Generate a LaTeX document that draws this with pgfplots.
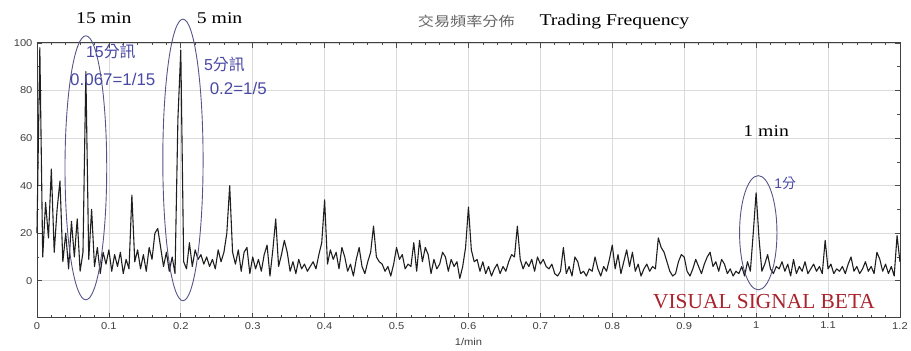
\documentclass[border=0pt]{standalone}
\usepackage{pgfplots}
\pgfplotsset{compat=1.18}
\usepackage{fontspec}
\setmainfont{Liberation Serif}
\newfontfamily\serifwide[FakeStretch=1.2]{Liberation Serif}
\newfontfamily\sans{Liberation Sans}
\newfontfamily\sanswide[FakeStretch=1.12]{Liberation Sans}
\newfontfamily\cjk{Noto Sans CJK TC}
\newfontfamily\cjkwide[FakeStretch=1.2]{Noto Sans CJK TC}
\definecolor{annot}{RGB}{72,72,165}
\definecolor{ring}{RGB}{85,85,135}
\definecolor{mark}{RGB}{170,35,45}

\begin{document}
\begin{tikzpicture}
\begin{axis}[
  scale only axis, width=864bp, height=275bp,
  xmin=0, xmax=1.2, ymin=-15.5, ymax=100,
  xtick={0,0.1,0.2,0.3,0.4,0.5,0.6,0.7,0.8,0.9,1,1.1,1.2},
  ytick={0,20,40,60,80,100},
  minor x tick num=4, minor y tick num=1,
  tick align=inside, major tick length=5bp, minor tick length=2.5bp,
  tick style={draw=black!70, line width=0.6pt},
  grid=major, major grid style={draw=black!14, line width=0.7pt},
  axis line style={draw=black!75, line width=0.9pt},
  /pgf/number format/assume math mode=true,
  ticklabel style={font=\sanswide\fontsize{10}{11}\selectfont, text=black!75},
  xticklabel style={yshift=-1bp},
  yticklabel style={xshift=-1bp},
  xlabel={1/min}, xlabel style={font=\sanswide\fontsize{10}{11}\selectfont, text=black!75, yshift=-2bp},
  clip=false,
]
% power spectrum of trade counts against frequency (1/min)
\addplot[black!88, line width=1.1bp, line join=round] coordinates {
(0,20)(0.004,98)(0.008,10)(0.012,33)(0.016,18)(0.02,47)(0.024,12)(0.028,30)(0.032,42)(0.036,8)
(0.04,20)(0.044,5)(0.048,25)(0.052,10)(0.056,26)(0.06,4)(0.064,12)(0.068,88)(0.072,9)(0.076,30)
(0.08,6)(0.084,14)(0.088,3)(0.092,12)(0.096,7)(0.1,13)(0.104,4)(0.108,11)(0.112,6)(0.116,12)
(0.12,3)(0.124,9)(0.128,5)(0.132,36)(0.136,8)(0.14,13)(0.144,5)(0.148,11)(0.152,4)(0.156,14)
(0.16,9)(0.164,20)(0.168,22)(0.172,14)(0.176,6)(0.18,12)(0.184,4)(0.188,10)(0.192,3)(0.196,68)
(0.2,97)(0.204,8)(0.208,5)(0.212,16)(0.216,6)(0.22,13)(0.224,9)(0.228,11)(0.232,7)(0.236,10)
(0.24,6)(0.244,9)(0.248,5)(0.252,13)(0.256,8)(0.26,12)(0.264,20)(0.268,40)(0.272,12)(0.276,7)
(0.28,13)(0.284,4)(0.288,12)(0.292,14)(0.296,3)(0.3,10)(0.304,5)(0.308,9)(0.312,4)(0.316,11)
(0.32,15)(0.324,2)(0.328,13)(0.332,26)(0.336,6)(0.34,11)(0.344,17)(0.348,12)(0.352,4)(0.356,8)
(0.36,3)(0.364,9)(0.368,5)(0.372,7)(0.376,4)(0.38,6)(0.384,8)(0.388,5)(0.392,11)(0.396,16)
(0.4,34)(0.404,7)(0.408,13)(0.412,9)(0.416,12)(0.42,5)(0.424,14)(0.428,10)(0.432,4)(0.436,7)
(0.44,2)(0.444,9)(0.448,14)(0.452,6)(0.456,3)(0.46,8)(0.464,12)(0.468,23)(0.472,10)(0.476,8)
(0.48,7)(0.484,4)(0.488,6)(0.492,2)(0.496,7)(0.5,14)(0.504,9)(0.508,11)(0.512,5)(0.516,7)
(0.52,6)(0.524,16)(0.528,4)(0.532,17)(0.536,8)(0.54,14)(0.544,11)(0.548,3)(0.552,9)(0.556,5)
(0.56,7)(0.564,12)(0.568,10)(0.572,4)(0.576,9)(0.58,6)(0.584,8)(0.588,1)(0.592,6)(0.596,14)
(0.6,31)(0.604,13)(0.608,8)(0.612,9)(0.616,4)(0.62,8)(0.624,3)(0.628,6)(0.632,2)(0.636,5)
(0.64,7)(0.644,3)(0.648,6)(0.652,4)(0.656,8)(0.66,11)(0.664,10)(0.668,23)(0.672,9)(0.676,5)
(0.68,8)(0.684,6)(0.688,9)(0.692,4)(0.696,10)(0.7,7)(0.704,9)(0.708,6)(0.712,5)(0.716,7)
(0.72,3)(0.724,2)(0.728,4)(0.732,14)(0.736,3)(0.74,6)(0.744,2)(0.748,10)(0.752,8)(0.756,3)
(0.76,4)(0.764,2)(0.768,5)(0.772,4)(0.776,10)(0.78,5)(0.784,2)(0.788,6)(0.792,4)(0.796,9)
(0.8,15)(0.804,5)(0.808,11)(0.812,3)(0.816,8)(0.82,13)(0.824,6)(0.828,12)(0.832,4)(0.836,7)
(0.84,2)(0.844,5)(0.848,7)(0.852,4)(0.856,6)(0.86,5)(0.864,18)(0.868,14)(0.872,12)(0.876,8)
(0.88,4)(0.884,2)(0.888,3)(0.892,8)(0.896,11)(0.9,10)(0.904,4)(0.908,2)(0.912,5)(0.916,9)
(0.92,6)(0.924,3)(0.928,7)(0.932,10)(0.936,12)(0.94,6)(0.944,8)(0.948,4)(0.952,9)(0.956,7)
(0.96,3)(0.964,5)(0.968,2)(0.972,4)(0.976,3)(0.98,6)(0.984,2)(0.988,8)(0.992,4)(0.996,20)
(1,37)(1.004,18)(1.008,4)(1.012,7)(1.016,11)(1.02,5)(1.024,3)(1.028,6)(1.032,5)(1.036,8)
(1.04,4)(1.044,7)(1.048,2)(1.052,9)(1.056,3)(1.06,6)(1.064,4)(1.068,8)(1.072,3)(1.076,5)
(1.08,7)(1.084,4)(1.088,6)(1.092,3)(1.096,17)(1.1,5)(1.104,7)(1.108,3)(1.112,5)(1.116,4)
(1.12,6)(1.124,3)(1.128,7)(1.132,10)(1.136,4)(1.14,6)(1.144,3)(1.148,5)(1.152,8)(1.156,4)
(1.16,6)(1.164,3)(1.168,12)(1.172,9)(1.176,4)(1.18,7)(1.184,3)(1.188,6)(1.192,2)(1.196,19)
(1.2,8)
};

% rings around the 15 min, 5 min and 1 min peaks
\draw[ring, line width=0.9pt] (axis cs:0.068,47.5) ellipse [x radius=0.029, y radius=55.5];
\draw[ring, line width=0.9pt] (axis cs:0.203,50.8) ellipse [x radius=0.028, y radius=59.2];
\draw[ring, line width=0.9pt] (axis cs:1.003,20.2) ellipse [x radius=0.026, y radius=24];

% period labels above the peaks
\node[font=\serifwide\fontsize{16.5}{18}\selectfont] at (axis cs:0.093,110.5) {15 min};
\node[font=\serifwide\fontsize{16.5}{18}\selectfont] at (axis cs:0.254,110.5) {5 min};
\node[font=\serifwide\fontsize{16.5}{18}\selectfont] at (axis cs:1.014,63) {1 min};

% title
\node[font=\cjkwide\fontsize{13.5}{15}\selectfont, text=black!60] at (axis cs:0.597,109) {交易頻率分佈};
\node[font=\serifwide\fontsize{16.5}{18}\selectfont] at (axis cs:0.803,109) {Trading Frequency};

% notes next to the peaks
\node[anchor=west, text=annot, inner sep=0pt, font=\fontsize{16}{18}\selectfont] at (axis cs:0.068,96.6) {{\sans 15}{\cjk 分訊}};
\node[anchor=west, text=annot, inner sep=0pt, font=\sans\fontsize{17}{19}\selectfont] at (axis cs:0.046,84.5) {0.067=1/15};
\node[anchor=west, text=annot, inner sep=0pt, font=\fontsize{16}{18}\selectfont] at (axis cs:0.232,90.8) {{\sans 5}{\cjk 分訊}};
\node[anchor=west, text=annot, inner sep=0pt, font=\sans\fontsize{17}{19}\selectfont] at (axis cs:0.240,80.7) {0.2=1/5};
\node[anchor=west, text=annot, inner sep=0pt, font=\fontsize{14}{16}\selectfont] at (axis cs:1.025,40.8) {{\sans 1}{\cjk 分}};

% watermark
\node[text=mark, font=\fontsize{21.5}{23}\selectfont] at (axis cs:1.011,-8.8) {VISUAL SIGNAL BETA};
\end{axis}
\path[use as bounding box] ([shift={(-37bp,-33bp)}]current axis.south west) rectangle ([shift={(10bp,43bp)}]current axis.north east);
\end{tikzpicture}
\end{document}
